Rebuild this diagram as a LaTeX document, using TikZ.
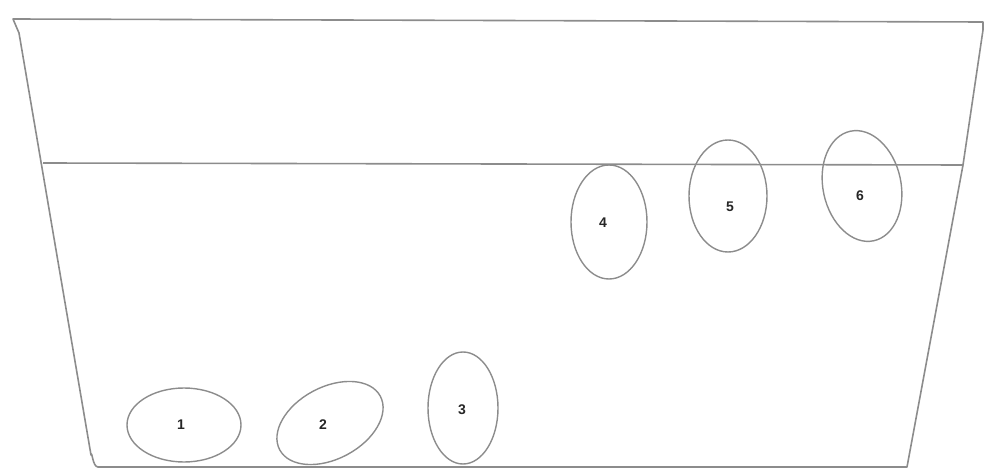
\documentclass[tikz,border=0pt]{standalone}
\usepackage{fontspec}
\setmainfont{Liberation Sans}
\usetikzlibrary{shapes.geometric}
\begin{document}
\begin{tikzpicture}[x=1pt,y=-1pt,
  wall/.style={draw=black!45, line width=1.6pt, line join=round},
  egg/.style={ellipse, draw=black!45, line width=1.4pt, inner sep=0pt},
  num/.style={font=\fontsize{14}{16}\selectfont\bfseries, text=black!85, inner sep=0pt}]
\useasboundingbox (0,0) rectangle (985,470);
% container
\coordinate (tl) at (13,19);
\coordinate (tr) at (983,22);
\coordinate (bl) at (98,467);
\coordinate (br) at (907,467);
\draw[wall] (tr) -- (tl) -- (19,33) -- (91,455) to[out=80,in=180] (bl) -- (br) -- (963,165) -- (983,30) -- cycle;
% water level
\coordinate (wl) at (43,163);
\coordinate (wr) at (963,165);
\draw[wall] (wl) -- (wr);
% eggs
\node[egg, minimum width=114, minimum height=74] (e1) at (184,425) {};
\node[egg, minimum width=114, minimum height=72, rotate=28] (e2) at (330,423) {};
\node[egg, minimum width=70, minimum height=112] (e3) at (463,408) {};
\node[egg, minimum width=76, minimum height=114] (e4) at (609,222) {};
\node[egg, minimum width=78, minimum height=112] (e5) at (728,196) {};
\node[egg, minimum width=78, minimum height=112, rotate=12] (e6) at (862,186) {};
% labels
\node[num] (n1) at (181,425) {1};
\node[num] (n2) at (323,425) {2};
\node[num] (n3) at (462,410) {3};
\node[num] (n4) at (603,223) {4};
\node[num] (n5) at (730,207) {5};
\node[num] (n6) at (860,196) {6};
\end{tikzpicture}
\end{document}
